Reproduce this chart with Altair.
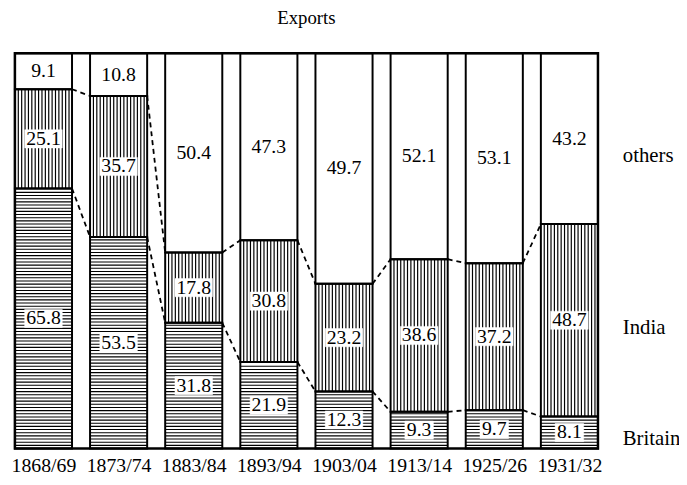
import altair as alt
import pandas as pd
import numpy as np

years = ["1868/69", "1873/74", "1883/84", "1893/94", "1903/04", "1913/14", "1925/26", "1931/32"]
britain = [65.8, 53.5, 31.8, 21.9, 12.3, 9.3, 9.7, 8.1]
india = [25.1, 35.7, 17.8, 30.8, 23.2, 38.6, 37.2, 48.7]
others = [9.1, 10.8, 50.4, 47.3, 49.7, 52.1, 53.1, 43.2]
series_names = ["Britain", "India", "others"]
side_labels = ["others", "India", "Britain"]
side_label_y = [74.0, 30.5, 2.3]

HALF = 0.38
FONT = "Liberation Serif"

rows = []
for i, yr in enumerate(years):
    vals = [britain[i], india[i], others[i]]
    tot = sum(vals)
    lo = 0.0
    for name, v in zip(series_names, vals):
        hi = lo + v / tot * 100
        lab = f"{v:.1f}"
        w = len(lab) * 0.12 + 0.02
        rows.append(dict(idx=i, year=yr, series=name, value=v, lo=lo, hi=hi,
                         mid=(lo + hi) / 2, x0=i - HALF, x1=i + HALF, label=lab,
                         bx0=i - w / 2, bx1=i + w / 2,
                         by0=(lo + hi) / 2 - 2.3, by1=(lo + hi) / 2 + 2.3))
        lo = hi
seg = pd.DataFrame(rows)

# hatching
hrows = []
for r in seg[seg.series == "Britain"].itertuples():
    for yv in np.arange(0.8, r.hi - 0.3, 0.8):
        hrows.append(dict(x0=r.x0, x1=r.x1, y=yv))
hatch_h = pd.DataFrame(hrows)

vrows = []
for r in seg[seg.series == "India"].itertuples():
    for xv in np.arange(r.x0 + 0.045, r.x1 - 0.015, 0.045):
        vrows.append(dict(x=xv, lo=r.lo, hi=r.hi))
hatch_v = pd.DataFrame(vrows)

# dashed connectors
crows = []
for s in ["Britain", "India"]:
    sub = seg[seg.series == s].reset_index(drop=True)
    for i in range(len(sub) - 1):
        crows.append(dict(x0=sub.x1[i], x1=sub.x0[i + 1], y0=sub.hi[i], y1=sub.hi[i + 1]))
conn = pd.DataFrame(crows)

side = pd.DataFrame(dict(text=side_labels, y=side_label_y, x=[7 + HALF + 0.33] * 3))

xscale = alt.Scale(domain=[-HALF, 7 + HALF], nice=False, zero=False)
yscale = alt.Scale(domain=[0, 100], nice=False, zero=False)

label_expr = "[" + ",".join(f"'{y}'" for y in years) + "][datum.value]"
xax = alt.Axis(values=list(range(len(years))), labelExpr=label_expr, title=None,
               domain=False, ticks=False, grid=False, labelFont=FONT, labelOverlap=False,
               labelFontSize=20, labelColor="black", labelPadding=7)


def X(field):
    return alt.X(field, scale=xscale, axis=xax)


def Y(field):
    return alt.Y(field, scale=yscale, axis=None)


outline = alt.Chart(seg).mark_rect(fill="white", fillOpacity=0, stroke="black", strokeWidth=2).encode(
    x=X("x0:Q"), x2="x1:Q", y=Y("lo:Q"), y2="hi:Q",
)

hh = alt.Chart(hatch_h).mark_rule(color="black", strokeWidth=1.1).encode(
    x=X("x0:Q"), x2="x1:Q", y=Y("y:Q"),
)

hv = alt.Chart(hatch_v).mark_rule(color="black", strokeWidth=1.2).encode(
    x=X("x:Q"), y=Y("lo:Q"), y2="hi:Q",
)

dashes = alt.Chart(conn).mark_rule(color="black", strokeWidth=1.8, strokeDash=[5, 4]).encode(
    x=X("x0:Q"), x2="x1:Q", y=Y("y0:Q"), y2="y1:Q",
)

boxes = alt.Chart(seg).transform_filter("datum.series != 'others'").mark_rect(
    fill="white", stroke="white", strokeWidth=0.5).encode(
    x=X("bx0:Q"), x2="bx1:Q", y=Y("by0:Q"), y2="by1:Q",
)

labels = alt.Chart(seg).mark_text(font=FONT, fontSize=20, color="black", baseline="middle").encode(
    x=X("idx:Q"), y=Y("mid:Q"), text="label:N",
)

side_text = alt.Chart(side).mark_text(font=FONT, fontSize=21, color="black", align="left",
                                      baseline="middle").encode(
    x=X("x:Q"), y=Y("y:Q"), text="text:N",
)

chart = alt.layer(outline, hh, hv, dashes, boxes, labels, side_text).properties(
    width=590, height=400,
    autosize="none",
    padding={"left": 7, "top": 43, "right": 82, "bottom": 26},
    title=alt.TitleParams("Exports", font=FONT, fontSize=19, fontWeight="normal",
                          color="black", anchor="middle", offset=25),
).configure_view(stroke="black", strokeWidth=2.5)

chart.save("out.html", embed_options={"renderer": "svg", "actions": False})
